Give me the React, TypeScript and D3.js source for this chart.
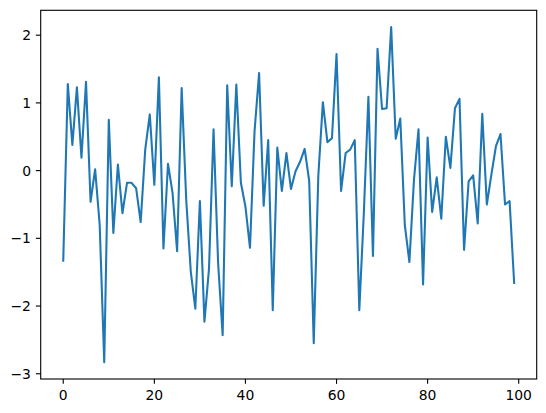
import React from "react";
import * as d3 from "d3";

const values: number[] = [
  -1.33, 1.28, 0.38, 1.23, 0.19, 1.31, -0.46, 0.02, -0.80, -2.83,
  0.75, -0.92, 0.09, -0.63, -0.18, -0.18, -0.26, -0.76, 0.31, 0.83,
  -0.21, 1.38, -1.15, 0.10, -0.33, -1.19, 1.22, -0.43, -1.49, -2.04,
  -0.45, -2.23, -1.45, 0.61, -1.36, -2.43, 1.26, -0.23, 1.27, -0.18,
  -0.53, -1.14, 0.58, 1.44, -0.52, 0.45, -2.06, 0.34, -0.30, 0.26,
  -0.27, -0.01, 0.13, 0.32, -0.15, -2.55, -0.08, 1.01, 0.42, 0.48,
  1.72, -0.30, 0.26, 0.31, 0.45, -2.06, -0.62, 1.09, -1.26, 1.80,
  0.91, 0.92, 2.12, 0.47, 0.77, -0.81, -1.35, -0.14, 0.61, -1.68,
  0.49, -0.61, -0.10, -0.71, 0.50, 0.04, 0.92, 1.06, -1.17, -0.16,
  -0.07, -0.78, 0.84, -0.50, -0.06, 0.36, 0.54, -0.50, -0.45, -1.66,
];
const xTicks: number[] = [0, 20, 40, 60, 80, 100];
const yTicks: number[] = [-3, -2, -1, 0, 1, 2];

export default function App() {
  const W = 546, H = 413;
  const left = 40.7, right = 536.7, top = 10.3, bottom = 379;
  const n = values.length;
  const xPad = (n - 1) * 0.05;
  const yMin = d3.min(values)!, yMax = d3.max(values)!;
  const yPad = (yMax - yMin) * 0.05;
  const x = d3.scaleLinear().domain([-xPad, n - 1 + xPad]).range([left, right]);
  const y = d3.scaleLinear().domain([yMin - yPad, yMax + yPad]).range([bottom, top]);
  const line = d3.line<number>().x((_, i) => x(i)).y((d) => y(d));
  const fmt = (v: number) => (v < 0 ? "\u2212" + Math.abs(v) : String(v));
  const tickLen = 4.86;
  const font = "DejaVu Sans, sans-serif";
  return (
    <svg width={W} height={H} style={{ position: "absolute", left: 0, top: 0, background: "#fff" }}>
      <rect x={0} y={0} width={W} height={H} fill="#fff" />
      <path d={line(values) || ""} fill="none" stroke="#1f77b4" strokeWidth={2.08} strokeLinejoin="round" strokeLinecap="square" />
      <rect x={left} y={top} width={right - left} height={bottom - top} fill="none" stroke="#000" strokeWidth={1.11} />
      {xTicks.map((t) => (
        <g key={"x" + t}>
          <line x1={x(t)} x2={x(t)} y1={bottom} y2={bottom + tickLen} stroke="#000" strokeWidth={1.11} />
          <text x={x(t)} y={400} textAnchor="middle" fontFamily={font} fontSize={13.9} fill="#000">{fmt(t)}</text>
        </g>
      ))}
      {yTicks.map((t) => (
        <g key={"y" + t}>
          <line x1={left - tickLen} x2={left} y1={y(t)} y2={y(t)} stroke="#000" strokeWidth={1.11} />
          <text x={left - tickLen - 4.86} y={y(t)} dy="0.36em" textAnchor="end" fontFamily={font} fontSize={13.9} fill="#000">{fmt(t)}</text>
        </g>
      ))}
    </svg>
  );
}
